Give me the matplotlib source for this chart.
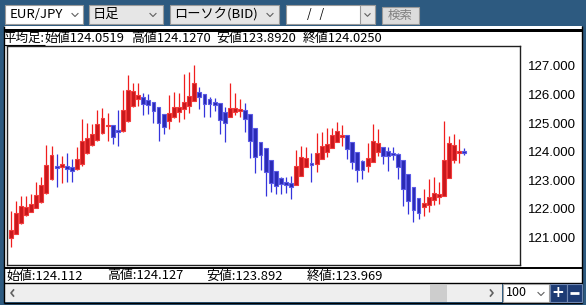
import numpy as np
import matplotlib.pyplot as plt
from matplotlib.patches import Rectangle

# daily EUR/JPY candles (BID)
opens = [120.99, 121.12, 121.49, 121.78, 121.90, 122.04, 122.25, 122.54, 123.03, 123.47,
         123.45, 123.51, 123.46, 123.39, 123.55, 123.96, 124.22, 124.41, 124.66, 124.91,
         124.92, 124.73, 124.71, 125.07, 125.60, 125.85, 125.92, 125.81, 125.73, 125.58,
         125.31, 125.07, 125.20, 125.40, 125.49, 125.61, 125.79, 126.10, 126.01, 125.83,
         125.75, 125.69, 125.40, 125.20, 125.38, 125.44, 125.46, 125.31, 124.84, 124.33,
         124.12, 123.71, 123.32, 123.06, 122.95, 122.89, 122.83, 123.16, 123.47, 123.61,
         123.57, 123.75, 123.98, 124.12, 124.35, 124.52, 124.57, 124.35, 124.00, 123.68,
         123.51, 123.62, 123.99, 124.15, 124.01, 123.94, 123.92, 123.71, 123.21, 122.75,
         122.36, 122.07, 122.13, 122.31, 122.40, 122.45, 123.06, 123.71, 123.95, 124.02]
highs = [121.92, 122.27, 122.45, 122.45, 122.52, 122.93, 123.12, 124.23, 124.20, 123.92,
         123.85, 123.94, 123.74, 124.15, 125.14, 125.01, 124.96, 125.46, 125.54, 125.34,
         124.93, 125.46, 126.16, 126.70, 126.42, 126.42, 126.04, 126.01, 125.73, 125.58,
         125.31, 125.98, 126.08, 126.04, 126.71, 126.78, 127.02, 126.25, 126.01, 125.93,
         125.88, 125.69, 125.58, 126.40, 126.07, 125.84, 125.72, 125.31, 124.84, 124.33,
         124.12, 123.71, 123.32, 123.12, 123.10, 123.15, 124.06, 124.20, 124.15, 123.94,
         124.66, 124.68, 124.82, 124.82, 125.04, 124.92, 124.57, 124.35, 124.00, 123.71,
         124.29, 124.96, 124.79, 124.15, 124.15, 124.15, 123.94, 123.71, 123.21, 122.75,
         122.36, 122.69, 123.03, 123.12, 122.92, 125.07, 124.55, 124.62, 124.44, 124.127]
lows = [120.67, 121.10, 121.45, 121.75, 121.87, 122.03, 122.20, 122.50, 123.00, 122.77,
        122.90, 122.95, 122.95, 123.36, 123.50, 123.92, 124.20, 124.38, 124.62, 124.38,
        124.27, 124.21, 124.70, 125.05, 125.58, 125.60, 125.28, 125.32, 125.00, 124.37,
        124.62, 124.79, 125.18, 125.05, 125.13, 125.34, 125.78, 125.48, 125.22, 125.22,
        125.44, 124.63, 124.35, 125.20, 125.28, 125.22, 124.70, 123.77, 123.24, 123.36,
        122.46, 122.60, 122.50, 122.52, 122.54, 122.33, 122.83, 123.15, 123.47, 122.95,
        123.30, 123.74, 123.80, 124.12, 124.35, 124.21, 123.73, 123.40, 122.95, 123.05,
        123.30, 123.62, 123.85, 123.57, 123.33, 123.71, 123.05, 122.11, 121.82, 121.55,
        121.63, 121.76, 121.90, 122.13, 122.17, 122.45, 123.06, 123.61, 123.61, 123.892]
closes = [121.24, 121.86, 122.10, 122.06, 122.17, 122.48, 122.82, 123.53, 123.88, 123.45,
          123.55, 123.40, 123.32, 123.74, 124.38, 124.49, 124.61, 124.96, 125.17, 124.93,
          124.50, 124.71, 125.46, 126.16, 126.11, 125.98, 125.67, 125.65, 125.41, 124.99,
          124.85, 125.37, 125.58, 125.58, 125.75, 125.96, 126.39, 125.93, 125.67, 125.66,
          125.65, 125.11, 124.99, 125.54, 125.54, 125.49, 125.14, 124.36, 123.82, 123.88,
          123.30, 122.91, 122.81, 122.85, 122.82, 122.77, 123.50, 123.80, 123.77, 123.52,
          123.94, 124.20, 124.26, 124.58, 124.72, 124.59, 124.08, 123.62, 123.36, 123.36,
          123.77, 124.37, 124.31, 123.85, 123.86, 123.89, 123.45, 122.68, 122.27, 121.96,
          121.84, 122.19, 122.42, 122.54, 122.50, 123.71, 124.29, 124.22, 124.03, 123.969]

y_ticks = [121, 122, 123, 124, 125, 126, 127]
y_labels = ['121.000', '122.000', '123.000', '124.000', '125.000', '126.000', '127.000']

header_label = '平均足:'
header_items = ['始値124.0519', '高値124.1270', '安値123.8920', '終値124.0250']
footer_items = ['始値:124.112', '高値:124.127', '安値:123.892', '終値:123.969']

JP = ['Noto Sans CJK JP', 'DejaVu Sans']
NUM = ['Liberation Sans', 'DejaVu Sans']

W, H = 586, 305
fig = plt.figure(figsize=(W / 100, H / 100), dpi=100)

# pixel canvas for the window chrome
ui = fig.add_axes([0, 0, 1, 1], zorder=0)
ui.set_xlim(0, W)
ui.set_ylim(H, 0)
ui.axis('off')


def rect(x0, y0, x1, y1, fc, ec='none', lw=0.0, z=1):
    ui.add_patch(Rectangle((x0, y0), x1 - x0, y1 - y0, facecolor=fc,
                           edgecolor=ec, linewidth=lw, zorder=z))


def hline(y, x0, x1, color='black', lw=0.75, z=3):
    ui.plot([x0, x1], [y, y], color=color, lw=lw, zorder=z, solid_capstyle='butt')


def vline(x, y0, y1, color='black', lw=0.75, z=3):
    ui.plot([x, x], [y0, y1], color=color, lw=lw, zorder=z, solid_capstyle='butt')


def chevron(cx, cy, s=3.0, color='#606060'):
    ui.plot([cx - s, cx, cx + s], [cy - s / 2, cy + s / 2, cy - s / 2],
            color=color, lw=0.8, zorder=4)


# dark frame + white panel
rect(0, 0, W, H, '#2d5a80', z=0)
rect(4, 26, 581.5, 283, 'white', z=1)
rect(4, 28.5, 581.5, 31.5, 'black', z=2)
vline(3.6, 26, 303, lw=1.0)
vline(581.5, 26, 303, lw=1.0)

# toolbar
rect(5, 5, 83, 24, 'white', '#9a9a9a', 0.8, z=2)
ui.text(10, 14.5, 'EUR/JPY', family=JP, fontsize=9.5, va='center', ha='left', zorder=4)
chevron(75, 15)
rect(89, 5, 163, 24, '#e6e6e6', '#9a9a9a', 0.8, z=2)
ui.text(93, 14.5, '日足', family=JP, fontsize=9.5, va='center', ha='left', zorder=4)
chevron(153, 15)
rect(170, 5, 279, 24, '#e6e6e6', '#9a9a9a', 0.8, z=2)
ui.text(174, 14.5, 'ローソク(BID)', family=JP, fontsize=9.5, va='center', ha='left', zorder=4)
chevron(270, 15)
rect(286, 5, 375, 24, 'white', '#9a9a9a', 0.8, z=2)
rect(360, 5, 375, 24, '#e6e6e6', '#9a9a9a', 0.8, z=2)
ui.text(316, 14.5, '/   /', family=JP, fontsize=8.5, va='center', ha='center', zorder=4)
chevron(367.5, 15, 2.6)
rect(382, 6.5, 419, 23.5, '#dcdcdc', '#9a9a9a', 0.8, z=2)
ui.text(400.5, 15, '検索', family=JP, fontsize=9, va='center', ha='center',
        color='#808080', zorder=4)

# header values
ui.text(3.5, 38.5, header_label, family=JP, fontsize=9, va='center', ha='left', zorder=4)
hline(45, 3.5, 45, lw=0.8)
for xx, t in zip([44, 131, 216, 303], header_items):
    ui.text(xx, 38.5, t, family=JP, fontsize=9.3, va='center', ha='left', zorder=4)

# footer values
hline(268.3, 4, 581.5, lw=1.4)
hline(283, 4, 581.5, lw=1.0)
for xx, t in zip([6.5, 107, 206.5, 306.5], footer_items):
    ui.text(xx, 276, t, family=JP, fontsize=9.3, va='center', ha='left', zorder=4)

# scroll bar + zoom controls
rect(4, 283.5, 502, 302, '#eeeeee', z=2)
hline(302.5, 3.5, 582, lw=1.0)
ui.plot([13.5, 11, 13.5], [290, 293, 296], color='#606060', lw=1.2, zorder=4)
ui.plot([490.5, 493, 490.5], [290, 293, 296], color='#606060', lw=1.2, zorder=4)
rect(430, 285, 447, 302, '#cdcdcd', z=3)
rect(503, 284, 549, 302, 'white', '#a0a0a0', 0.8, z=3)
ui.text(506, 293, '100', family=JP, fontsize=9, va='center', ha='left', zorder=4)
chevron(541, 294, 3)
rect(550, 284, 566.5, 302, '#1d3b74', '#6f86b0', 0.8, z=3)
rect(567, 284, 581.5, 302, '#1d3b74', '#6f86b0', 0.8, z=3)
ui.text(558.2, 292.5, '+', color='white', fontsize=11, fontweight='bold',
        va='center', ha='center', zorder=5)
hline(293, 570, 579, color='white', lw=2.0, z=5)

# candle chart
ax = fig.add_axes([7 / W, (H - 265) / H, 513 / W, 219 / H], zorder=2)
ax.set_facecolor('white')
for s in ax.spines.values():
    s.set_color('#202020')
    s.set_linewidth(1.0)

o = np.array(opens)
c = np.array(closes)
hi = np.array(highs)
lo = np.array(lows)
x = np.arange(len(o))
up = c >= o

wick_col = np.where(up, '#f01e1e', '#3434dc')
body_fill = np.where(up, '#c8181c', '#2a2ab4')
body_edge = np.where(up, '#f23a3a', '#5a5ae6')

ax.vlines(x, lo, hi, colors=wick_col, linewidth=0.9, zorder=2)

min_h = 0.05
bh = np.maximum(np.abs(c - o), min_h)
mid = (o + c) / 2
ax.bar(x, bh, bottom=mid - bh / 2, width=0.76, color=body_fill,
       edgecolor=body_edge, linewidth=0.8, zorder=3)

ax.set_xlim(-0.73, 99.9)
ax.set_ylim(120.03, 127.70)
ax.set_xticks([])
ax.yaxis.tick_right()
ax.set_yticks(y_ticks)
ax.set_yticklabels(y_labels, family=NUM, fontsize=9.5)
ax.tick_params(axis='y', length=0, pad=6)

fig.savefig('out.png', dpi=100)
